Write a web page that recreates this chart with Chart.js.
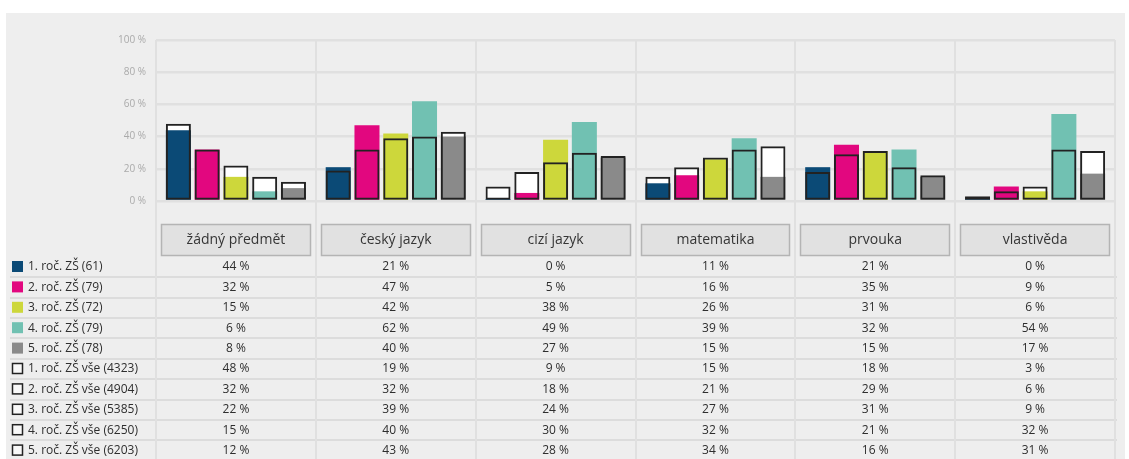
<!DOCTYPE html>
<html>
<head>
<meta charset="utf-8">
<title>Předměty podle ročníku</title>
<script src="https://cdn.jsdelivr.net/npm/chart.js@4/dist/chart.umd.min.js"></script>
<style>
    html, body { margin: 0; padding: 0; background: #ffffff; }
    #wrap { width: 1129px; height: 459px; position: relative; }
</style>
</head>
<body>
<div id="wrap"><canvas id="subjectChart" width="1129" height="459"></canvas></div>
<script>
const categories = ["žádný předmět", "český jazyk", "cizí jazyk", "matematika", "prvouka", "vlastivěda"];

// sample groups (filled bars)
const groupLabels = ["1. roč. ZŠ (61)", "2. roč. ZŠ (79)", "3. roč. ZŠ (72)", "4. roč. ZŠ (79)", "5. roč. ZŠ (78)"];
const grade1 = [44, 21, 0, 11, 21, 0];
const grade2 = [32, 47, 5, 16, 35, 9];
const grade3 = [15, 42, 38, 26, 31, 6];
const grade4 = [6, 62, 49, 39, 32, 54];
const grade5 = [8, 40, 27, 15, 15, 17];

// all schools (outlined bars)
const allLabels = ["1. roč. ZŠ vše (4323)", "2. roč. ZŠ vše (4904)", "3. roč. ZŠ vše (5385)", "4. roč. ZŠ vše (6250)", "5. roč. ZŠ vše (6203)"];
const all1 = [48, 19, 9, 15, 18, 3];
const all2 = [32, 32, 18, 21, 29, 6];
const all3 = [22, 39, 24, 27, 31, 9];
const all4 = [15, 40, 30, 32, 21, 32];
const all5 = [12, 43, 28, 34, 16, 31];

const yTicks = [0, 20, 40, 60, 80, 100];

const colors = ["#0b4a76", "#e2077f", "#cdd73b", "#71c1b2", "#8a8a8a"];
const groupData = [grade1, grade2, grade3, grade4, grade5];
const allData = [all1, all2, all3, all4, all5];

const FONT = "'Open Sans', 'DejaVu Sans', sans-serif";

// build datasets: white back, coloured bar, black outline - same stack = same slot
const datasets = [];
for (let i = 0; i < 5; i++) {
    datasets.push({
        label: allLabels[i],
        data: allData[i],
        stack: "s" + i,
        order: 1,
        backgroundColor: "rgba(0,0,0,0)",
        borderColor: "#222222",
        borderWidth: 2,
        borderSkipped: false
    });
}
for (let i = 0; i < 5; i++) {
    datasets.push({
        label: groupLabels[i],
        data: groupData[i],
        stack: "s" + i,
        order: 2,
        backgroundColor: colors[i],
        borderWidth: 0,
        minBarLength: 2
    });
}
for (let i = 0; i < 5; i++) {
    datasets.push({
        label: allLabels[i] + " bg",
        data: allData[i],
        stack: "s" + i,
        order: 3,
        backgroundColor: "#ffffff",
        borderWidth: 0
    });
}

// grey panel behind everything
const panelPlugin = {
    id: "panel",
    beforeDraw(chart) {
        const ctx = chart.ctx;
        ctx.save();
        ctx.fillStyle = "#eeeeee";
        ctx.fillRect(6, 13, 1119, chart.height - 13);
        ctx.restore();
    }
};

// table under the plot, columns follow the x scale
const tablePlugin = {
    id: "table",
    afterDraw(chart) {
        const ctx = chart.ctx;
        const x = chart.scales.x;
        const area = chart.chartArea;
        const half = (x.getPixelForValue(1) - x.getPixelForValue(0)) / 2;
        const rowTop = 267;
        const rowStep = 20.4;
        const rows = groupData.concat(allData);
        const labels = groupLabels.concat(allLabels);

        ctx.save();

        // row lines
        ctx.strokeStyle = "#dcdcdc";
        ctx.lineWidth = 2;
        for (let r = 0; r < rows.length - 1; r++) {
            const y = Math.round(rowTop + r * rowStep + rowStep / 2);
            ctx.beginPath();
            ctx.moveTo(10, y);
            ctx.lineTo(area.right + 2, y);
            ctx.stroke();
        }

        // column lines continue the grid
        ctx.strokeStyle = "#e0e0e0";
        ctx.lineWidth = 2;
        for (let c = 0; c <= categories.length; c++) {
            const bx = Math.round(x.getPixelForValue(c) - half);
            ctx.beginPath();
            ctx.moveTo(bx, area.bottom);
            ctx.lineTo(bx, chart.height);
            ctx.stroke();
        }

        // category header boxes
        ctx.font = "14px " + FONT;
        ctx.textAlign = "center";
        ctx.textBaseline = "middle";
        categories.forEach(function (cat, c) {
            const cx = x.getPixelForValue(c);
            const left = Math.round(cx - half) + 5;
            const right = Math.round(cx + half) - 6;
            ctx.fillStyle = "#e1e1e1";
            ctx.fillRect(left, 224, right - left, 31);
            ctx.strokeStyle = "#b4b4b4";
            ctx.lineWidth = 1.5;
            ctx.strokeRect(left + 0.5, 224.5, right - left, 31);
            ctx.fillStyle = "#353535";
            ctx.fillText(cat, cx, 240);
        });

        // legend column + values
        ctx.font = "12px " + FONT;
        rows.forEach(function (vals, r) {
            const cy = rowTop + r * rowStep;
            if (r < 5) {
                ctx.fillStyle = colors[r];
                ctx.fillRect(12, cy - 6, 11, 11);
            } else {
                ctx.fillStyle = "#f8f8f8";
                ctx.fillRect(13, cy - 5, 9, 9);
                ctx.strokeStyle = "#222222";
                ctx.lineWidth = 1.5;
                ctx.strokeRect(12.5, cy - 5.5, 10, 10);
            }
            ctx.fillStyle = "#2e2e2e";
            ctx.textAlign = "left";
            ctx.fillText(labels[r], 28, cy);
            ctx.textAlign = "center";
            vals.forEach(function (v, c) {
                ctx.fillText(v + " %", x.getPixelForValue(c), cy);
            });
        });

        ctx.restore();
    }
};

const canvas = document.getElementById("subjectChart");
new Chart(canvas, {
    type: "bar",
    data: {
        labels: categories,
        datasets: datasets
    },
    options: {
        responsive: false,
        animation: false,
        categoryPercentage: 0.9,
        barPercentage: 0.87,
        layout: {
            padding: { top: 40, right: 14, bottom: 0, left: 0 }
        },
        plugins: {
            legend: { display: false },
            tooltip: { enabled: false }
        },
        scales: {
            x: {
                grid: {
                    color: "#e0e0e0",
                    lineWidth: 2,
                    drawTicks: false
                },
                border: { display: false },
                ticks: { display: false },
                afterFit: function (scale) {
                    scale.height = 258;
                }
            },
            y: {
                stacked: false,
                min: 0,
                max: 100,
                afterBuildTicks: function (scale) {
                    scale.ticks = yTicks.map(function (v) { return { value: v }; });
                },
                afterFit: function (scale) {
                    scale.width = 156;
                },
                grid: {
                    color: "#e0e0e0",
                    lineWidth: 2.5,
                    drawTicks: false
                },
                border: { display: false },
                ticks: {
                    padding: 10,
                    color: "#aaaaaa",
                    font: { size: 10, family: FONT },
                    callback: function (value) {
                        return value + " %";
                    }
                }
            }
        }
    },
    plugins: [panelPlugin, tablePlugin]
});
</script>
</body>
</html>
